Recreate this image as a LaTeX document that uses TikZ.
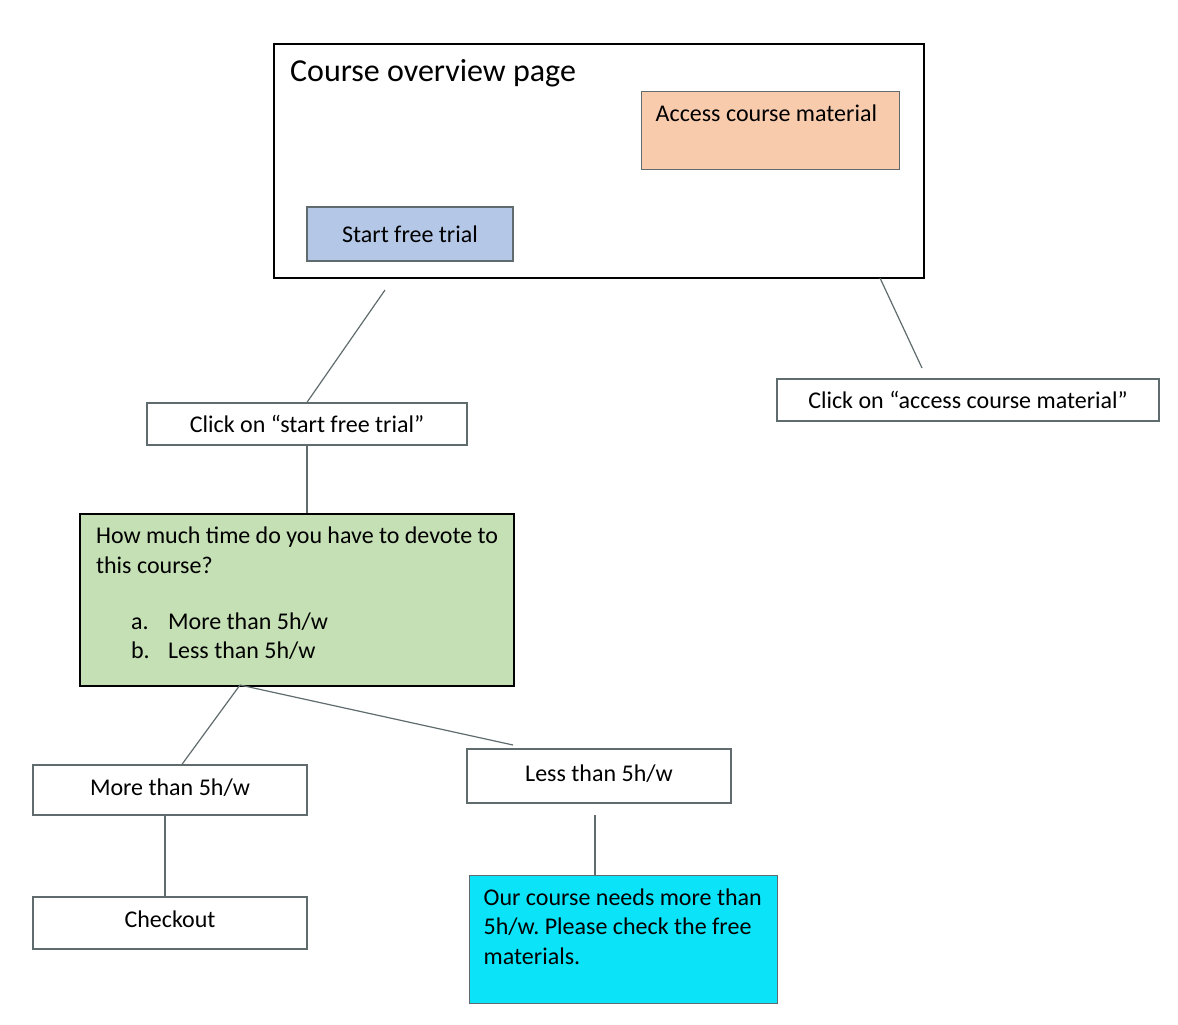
\documentclass[tikz,border=0pt]{standalone}
\usepackage{fontspec}
\setmainfont{Carlito}
\usetikzlibrary{calc}
\usetikzlibrary{positioning}

\definecolor{edgegray}{HTML}{5F6B6D}
\definecolor{peach}{HTML}{F8CBAD}
\definecolor{trialblue}{HTML}{B4C7E7}
\definecolor{qgreen}{HTML}{C5E0B4}
\definecolor{infocyan}{HTML}{0BE3F9}

\tikzset{
	box/.style={draw=edgegray,line width=0.7pt,inner sep=0pt,font=\fontsize{12}{14.7}\selectfont},
	textbox/.style={box,anchor=north west,inner xsep=7pt,inner ysep=6.5pt},
	link/.style={draw=edgegray,line width=0.6pt}
}

\begin{document}
\frenchspacing
\begin{tikzpicture}[x=0.5pt,y=-0.5pt]
		\useasboundingbox (0,0) rectangle (1178,1024);
		% overview page with its two buttons
		\node[textbox,draw=black,line width=1.1pt,inner xsep=8pt,inner ysep=7.5pt,font=\fontsize{16}{19}\selectfont] (page) at (273,43) {\parbox[t][102pt][t]{309pt}{Course overview page}};
		\node[textbox,fill=peach] (access) at (641,91) {\parbox[t][26pt][t]{115pt}{Access course material}};
		\node[box,fill=trialblue,minimum width=103pt,minimum height=27pt] (trial) at (410,234) {Start free trial};
		% the two clicks
		\coordinate (trialcut) at (385,290);
		\node[box,minimum width=160pt,minimum height=21pt] (clickstart) at (307,424) {Click on “start free trial”};
		\coordinate (pagecut) at (880,278);
		\coordinate (accesscut) at (922,368);
		\node[box,minimum width=191pt,minimum height=21pt] (clickaccess) at (968,400) {Click on “access course material”};
		% question
		\node[textbox,draw=black,line width=1.1pt,fill=qgreen,inner xsep=8pt] (question) at (79,513) {\parbox[t][73pt][t]{201pt}{How much time do you have to devote to\\this course?\\[13.3pt]
			\hspace*{17.5pt}\makebox[18.5pt][l]{a.}More than 5h/w\\
			\hspace*{17.5pt}\makebox[18.5pt][l]{b.}Less than 5h/w}};
		\coordinate (qfoot) at (240,685);
		\node[box,minimum width=137pt,minimum height=25pt,text depth=3pt] (more) at (170,790) {More than 5h/w};
		\node[box,minimum width=132pt,minimum height=27pt,text depth=3pt] (less) at (599,776) {Less than 5h/w};
		\coordinate (lessend) at (513,745);
		\node[box,minimum width=137pt,minimum height=26pt,text depth=4pt] (checkout) at (170,923) {Checkout};
		\coordinate (lesscut) at (595,815);
		\node[textbox,fill=infocyan] (answer) at (469,875) {\parbox[t][51pt][t]{140pt}{Our course needs more than\\5h/w. Please check the free\\materials.}};
		% connectors
		\draw[link] (trialcut) -- (clickstart.north);
		\draw[link] (pagecut) -- (accesscut);
		\draw[link] (clickstart.south) -- (clickstart.south |- question.north);
		\draw[link] (qfoot) -- ($(more.north)+(12,0)$);
		\draw[link] (qfoot) -- (lessend);
		\draw[link] ($(more.south)+(-5,0)$) -- ($(checkout.north)+(-5,0)$);
		\draw[link] (lesscut) -- (lesscut |- answer.north);
	\end{tikzpicture}
\end{document}
